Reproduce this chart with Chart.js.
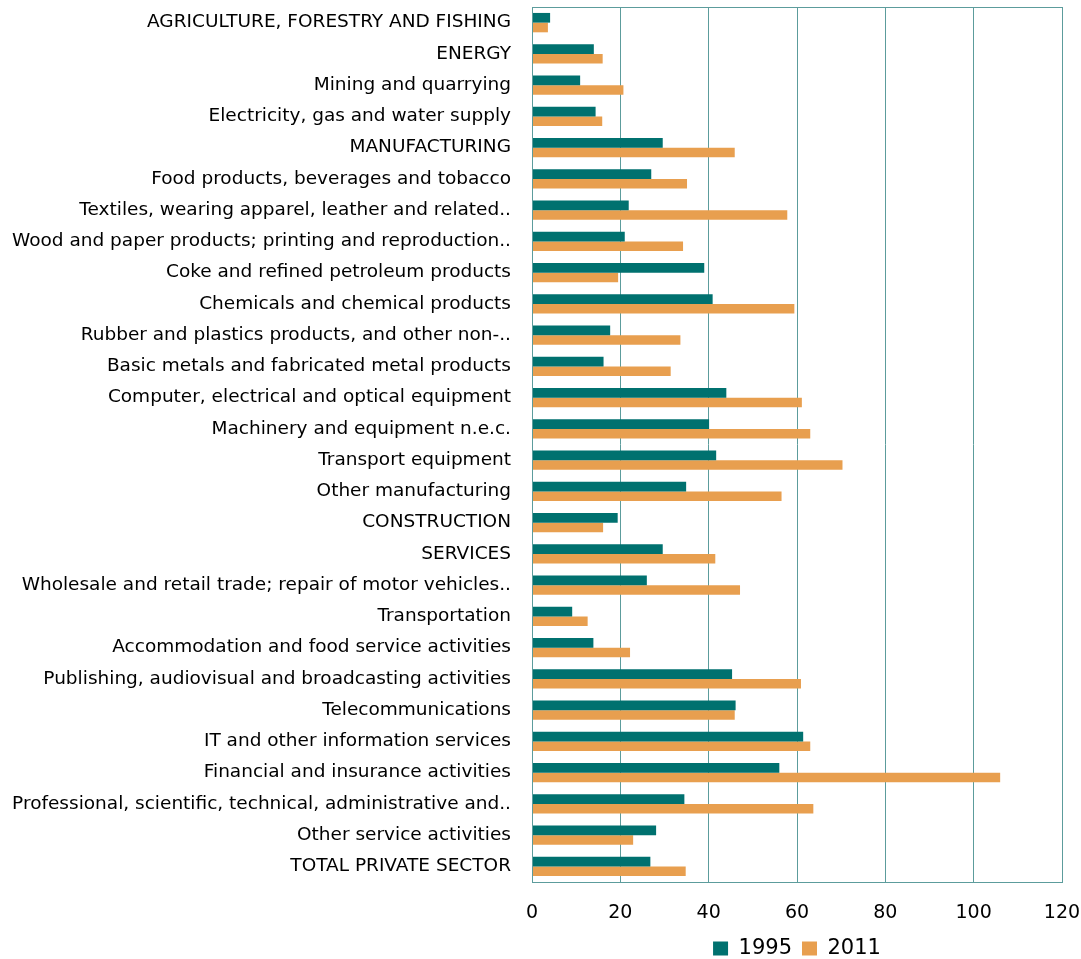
<!DOCTYPE html>
<html>
<head>
<meta charset="utf-8">
<script src="https://cdn.jsdelivr.net/npm/chart.js@4/dist/chart.umd.min.js"></script>
<style>
  html, body { margin: 0; padding: 0; background: #fff; }
  #wrap { width: 1081px; height: 959px; position: relative; }
</style>
</head>
<body>
<div id="wrap"><canvas id="graphique"></canvas></div>
<script>
// Secteurs (axe vertical)
const secteurs = [
  "AGRICULTURE, FORESTRY AND FISHING",
  "ENERGY",
  "Mining and quarrying",
  "Electricity, gas and water supply",
  "MANUFACTURING",
  "Food products, beverages and tobacco",
  "Textiles, wearing apparel, leather and related..",
  "Wood and paper products; printing and reproduction..",
  "Coke and refined petroleum products",
  "Chemicals and chemical products",
  "Rubber and plastics products, and other non-..",
  "Basic metals and fabricated metal products",
  "Computer, electrical and optical equipment",
  "Machinery and equipment n.e.c.",
  "Transport equipment",
  "Other manufacturing",
  "CONSTRUCTION",
  "SERVICES",
  "Wholesale and retail trade; repair of motor vehicles..",
  "Transportation",
  "Accommodation and food service activities",
  "Publishing, audiovisual and broadcasting activities",
  "Telecommunications",
  "IT and other information services",
  "Financial and insurance activities",
  "Professional, scientific, technical, administrative and..",
  "Other service activities",
  "TOTAL PRIVATE SECTOR"
];

// Valeurs
const valeurs1995 = [
  4.1, 14.0, 10.9, 14.4, 29.6, 27.0, 21.9, 21.0, 39.0, 40.9,
  17.7, 16.2, 44.0, 40.1, 41.7, 34.9, 19.4, 29.6, 26.0, 9.1,
  13.9, 45.3, 46.1, 61.4, 56.0, 34.5, 28.1, 26.8
];
const valeurs2011 = [
  3.6, 16.0, 20.7, 15.9, 45.9, 35.1, 57.8, 34.2, 19.5, 59.4,
  33.6, 31.4, 61.1, 63.0, 70.3, 56.5, 16.1, 41.5, 47.1, 12.6,
  22.2, 60.9, 45.9, 63.0, 106.0, 63.7, 22.9, 34.8
];

// Axe horizontal
const xMin = 0;
const xMax = 120;
const xPas = 20;

const teal = '#00716f';
const orange = '#e89f4f';
const grille = '#5c9c9c';
const police = 'DejaVu Sans';

// Cadre autour de la zone du graphique
const cadre = {
  id: 'cadre',
  afterDraw(chart) {
    const { ctx, chartArea } = chart;
    ctx.save();
    ctx.strokeStyle = grille;
    ctx.lineWidth = 1;
    ctx.strokeRect(Math.round(chartArea.left) + 0.5, Math.round(chartArea.top) + 0.5,
      Math.round(chartArea.right - chartArea.left), Math.round(chartArea.bottom - chartArea.top));
    ctx.restore();
  }
};

const ctx = document.getElementById('graphique').getContext('2d');
new Chart(ctx, {
  type: 'bar',
  data: {
    labels: secteurs,
    datasets: [
      { label: '1995', data: valeurs1995, backgroundColor: teal, borderWidth: 0 },
      { label: '2011', data: valeurs2011, backgroundColor: orange, borderWidth: 0 }
    ]
  },
  options: {
    indexAxis: 'y',
    responsive: true,
    maintainAspectRatio: false,
    animation: false,
    datasets: { bar: { categoryPercentage: 0.62, barPercentage: 1 } },
    layout: { padding: { top: 7, right: 19, left: 0, bottom: -10 } },
    scales: {
      x: {
        min: xMin,
        max: xMax,
        ticks: { stepSize: xPas, padding: 0, color: '#000', font: { family: police, size: 19 } },
        grid: { color: grille, lineWidth: 1, drawTicks: true, tickLength: 20, tickColor: 'rgba(0,0,0,0)' },
        border: { color: grille },
        afterFit(scale) { scale.height = 46; }
      },
      y: {
        ticks: { padding: 0, color: '#000', autoSkip: false, font: { family: police, size: 18.5, lineHeight: 0.7 } },
        grid: { display: true, drawOnChartArea: false, drawTicks: true, tickLength: 21, tickColor: 'rgba(0,0,0,0)' },
        border: { color: grille },
        afterFit(scale) { scale.width = 532; }
      }
    },
    plugins: {
      legend: {
        position: 'bottom',
        fullSize: false,
        labels: {
          boxWidth: 15,
          boxHeight: 14,
          padding: 10,
          color: '#000',
          font: { family: police, size: 21 }
        }
      },
      tooltip: { enabled: false }
    }
  },
  plugins: [cadre]
});
</script>
</body>
</html>
